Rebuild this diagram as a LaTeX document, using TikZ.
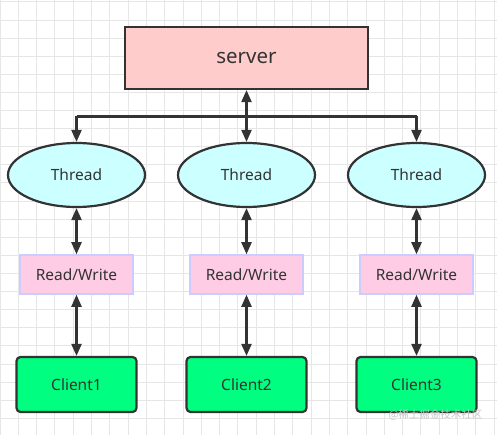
\documentclass[tikz,border=0pt]{standalone}
\usepackage{fontspec}
\setmainfont{Noto Sans}
\newfontfamily\cjk{Noto Sans CJK SC}
\usetikzlibrary{arrows.meta,shapes.geometric}
\definecolor{ink}{HTML}{333333}
\definecolor{gridc}{HTML}{E6E6E6}
\definecolor{serverfill}{HTML}{FFCCCC}
\definecolor{threadfill}{HTML}{CCFFFF}
\definecolor{rwfill}{HTML}{FFCCE6}
\definecolor{rwdraw}{HTML}{CCCCFF}
\definecolor{clientfill}{HTML}{00FF80}
\tikzset{
  serverbox/.style={draw=ink,line width=2.2pt,fill=serverfill,minimum width=243pt,minimum height=62pt,inner sep=0pt,font=\fontsize{20.5}{22}\selectfont,text=ink},
  threadnode/.style={ellipse,draw=ink,line width=2.2pt,fill=threadfill,minimum width=137pt,minimum height=64pt,inner sep=0pt,font=\fontsize{15.5}{17}\selectfont,text=ink},
  rwbox/.style={draw=rwdraw,line width=1.5pt,fill=rwfill,minimum width=113pt,minimum height=39pt,inner sep=0pt,font=\fontsize{15.5}{17}\selectfont,text=ink},
  clientbox/.style={draw=ink,line width=2.2pt,fill=clientfill,rounded corners=4pt,minimum width=120pt,minimum height=55pt,inner sep=0pt,font=\fontsize{15.5}{17}\selectfont,text=ink},
  conn/.style={draw=ink,line width=2.2pt},
  tip/.style={-{Triangle[length=12pt,width=10pt]}},
  dtip/.style={{Triangle[length=12pt,width=10pt]}-{Triangle[length=12pt,width=10pt]}},
}
\begin{document}
\begin{tikzpicture}[x=1pt,y=-1pt]
\useasboundingbox (0,0) rectangle (497,435);
\fill[white] (0,0) rectangle (497,435);
\foreach \i in {0,...,27} {
  \draw[gridc,line width=1pt] ({18.3*\i},0) -- ({18.3*\i},435);
}
\foreach \j in {0,...,24} {
  \draw[gridc,line width=1pt] (0,{2+18.1*\j}) -- (497,{2+18.1*\j});
}
\node[serverbox] (server) at (246.5,58) {server};
\node[threadnode] (t1) at (76.5,175) {Thread};
\node[threadnode] (t2) at (246.5,175) {Thread};
\node[threadnode] (t3) at (416.5,175) {Thread};
\node[rwbox] (rw1) at (76.5,274.5) {Read/Write};
\node[rwbox] (rw2) at (246.5,274.5) {Read/Write};
\node[rwbox] (rw3) at (416.5,274.5) {Read/Write};
\node[clientbox] (c1) at (76.5,384.5) {Client1};
\node[clientbox] (c2) at (246.5,384.5) {Client2};
\node[clientbox] (c3) at (416.5,384.5) {Client3};
\coordinate (bl) at (76.5,116.5);
\coordinate (br) at (416.5,116.5);
\draw[conn] (bl) -- (br);
\draw[conn,tip] (bl) -- (t1.north);
\draw[conn,tip] (br) -- (t3.north);
\draw[conn,dtip] (server.south) -- (t2.north);
\foreach \k in {1,2,3} {
  \draw[conn,dtip] (t\k.south) -- (rw\k.north);
  \draw[conn,dtip] (rw\k.south) -- (c\k.north);
}
\node[font=\cjk\fontsize{10.5}{12}\selectfont,text=gray!45,anchor=east] (wm) at (486,415) {@稀土掘金技术社区};
\end{tikzpicture}
\end{document}
